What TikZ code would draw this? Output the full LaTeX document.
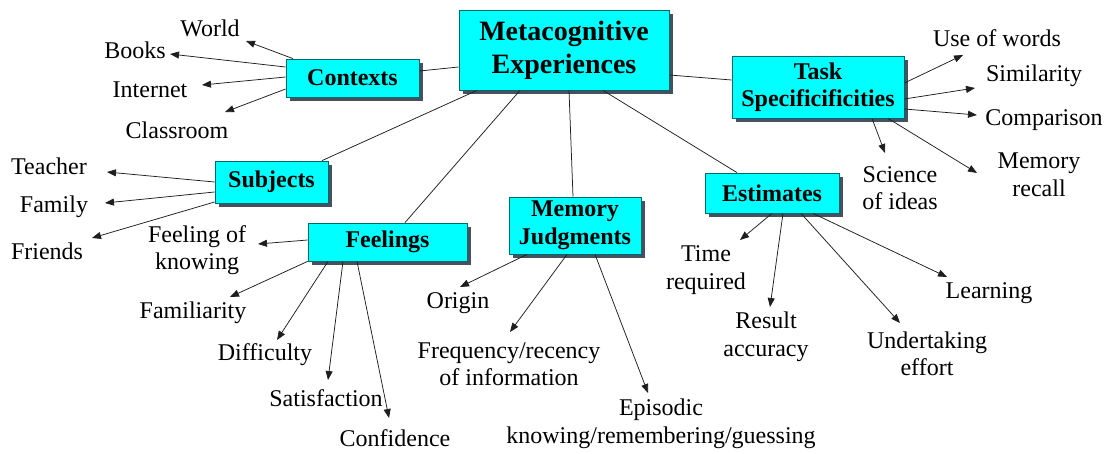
\documentclass[tikz,border=0pt]{standalone}
\usepackage{fontspec}
\setmainfont{Liberation Serif}
\usetikzlibrary{arrows.meta,shadows}
\definecolor{boxfill}{RGB}{0,255,255}
\definecolor{boxline}{RGB}{0,105,110}
\definecolor{boxshade}{RGB}{70,80,95}
\definecolor{inkline}{RGB}{30,30,30}
\tikzset{
  concept/.style={draw=boxline, line width=0.8pt, fill=boxfill, inner sep=0pt,
    align=center, font=\fontsize{24}{27.5}\selectfont\bfseries,
    drop shadow={shadow xshift=3.5pt, shadow yshift=-3.5pt, fill=boxshade, opacity=1}},
  leaf/.style={inner sep=0pt, align=center, font=\fontsize{24}{27.5}\selectfont},
  link/.style={draw=inkline, line width=0.75pt},
  arr/.style={link, -{Triangle[length=9pt,width=7pt]}}
}
\begin{document}
\begin{tikzpicture}[x=1pt,y=-1pt]
\useasboundingbox[fill=white] (0,0) rectangle (1113,453);

% concept boxes
\node[concept, minimum width=210pt, minimum height=80pt,
      font=\fontsize{28}{33}\selectfont\bfseries] (meta) at (564,50) {Metacognitive\\Experiences};
\node[concept, minimum width=133pt, minimum height=38pt] (ctx)  at (352.5,78)  {Contexts};
\node[concept, minimum width=172pt, minimum height=62pt] (task) at (818,87)    {Task\\Specificificities};
\node[concept, minimum width=113pt, minimum height=42pt] (subj) at (271.5,182) {Subjects};
\node[concept, minimum width=159pt, minimum height=38pt] (feel) at (387.5,242) {Feelings};
\node[concept, minimum width=132pt, minimum height=57pt] (mem)  at (575,225.5) {Memory\\Judgments};
\node[concept, minimum width=134pt, minimum height=40pt] (est)  at (772,193)   {Estimates};

% leaf labels
\node[leaf] (world)       at (210,28)  {World};
\node[leaf] (books)       at (135,50)  {Books};
\node[leaf] (internet)    at (150,90)  {Internet};
\node[leaf] (classroom)   at (177,130) {Classroom};
\node[leaf] (teacher)     at (49,166)  {Teacher};
\node[leaf] (family)      at (54,207)  {Family};
\node[leaf] (friends)     at (47,251)  {Friends};
\node[leaf] (fok)         at (197,250) {Feeling of\\knowing};
\node[leaf] (familiarity) at (193,313) {Familiarity};
\node[leaf] (difficulty)  at (265,355) {Difficulty};
\node[leaf] (satisf)      at (326,398) {Satisfaction};
\node[leaf] (confid)      at (395,438) {Confidence};
\node[leaf] (origin)      at (458,303) {Origin};
\node[leaf] (freq)        at (509,364) {Frequency/recency\\of information};
\node[leaf] (episodic)    at (661,424) {Episodic\\knowing/remembering/guessing};
\node[leaf] (timereq)     at (706,270) {Time\\required};
\node[leaf] (result)      at (766,337) {Result\\accuracy};
\node[leaf] (undertake)   at (927,354) {Undertaking\\effort};
\node[leaf] (learning)    at (989,293) {Learning};
\node[leaf] (usewords)    at (997,38)  {Use of words};
\node[leaf] (similarity)  at (1034,76) {Similarity};
\node[leaf] (comparison)  at (1044,120){Comparison};
\node[leaf] (recall)      at (1039,175){Memory\\recall};
\node[leaf] (science)     at (900,188) {Science\\of ideas};

% arrow tips, just short of their labels
\coordinate (tWorld)   at (246,41);
\coordinate (tBooks)   at (170,54);
\coordinate (tInternet)at (202,85);
\coordinate (tClass)   at (225,112);
\coordinate (tTeacher) at (107,172);
\coordinate (tFamily)  at (105,203);
\coordinate (tFriends) at (92,238);
\coordinate (tFok)     at (258,244);
\coordinate (tFamil)   at (230,297);
\coordinate (tDiff)    at (277,340);
\coordinate (tSatis)   at (328,380);
\coordinate (tConf)    at (389,418);
\coordinate (tOrigin)  at (460,287);
\coordinate (tFreq)    at (510,332);
\coordinate (tEpis)    at (648,393);
\coordinate (tTime)    at (740,240);
\coordinate (tResult)  at (770,307);
\coordinate (tUnder)   at (900,323);
\coordinate (tLearn)   at (947,277);
\coordinate (tUse)     at (963,55);
\coordinate (tSimil)   at (975,88);
\coordinate (tCompar)  at (977,115);
\coordinate (tScience) at (885,153);
\coordinate (tRecall)  at (977,173);

% links from the central concept
\draw[link] (meta.west |- 0,67)   -- (ctx.east |- 0,71);
\draw[link] (meta.east |- 0,75)   -- (task.west |- 0,80);
\draw[link] (meta.south -| 477,0) -- (subj.north -| 322,0);
\draw[link] (meta.south -| 520,0) -- (feel.north -| 405,0);
\draw[link] (meta.south -| 569,0) -- (mem.north -| 573,0);
\draw[link] (meta.south -| 603,0) -- (est.north -| 737,0);

% Contexts
\draw[arr] (ctx.north -| 293,0) -- (tWorld);
\draw[arr] (ctx.west |- 0,67)   -- (tBooks);
\draw[arr] (ctx.west |- 0,77)   -- (tInternet);
\draw[arr] (ctx.west |- 0,89)   -- (tClass);
% Subjects
\draw[arr] (subj.west |- 0,182) -- (tTeacher);
\draw[arr] (subj.west |- 0,192) -- (tFamily);
\draw[arr] (subj.west |- 0,202) -- (tFriends);
% Feelings
\draw[arr] (feel.west |- 0,240)   -- (tFok);
\draw[arr] (feel.south west)      -- (tFamil);
\draw[arr] (feel.south -| 328,0)  -- (tDiff);
\draw[arr] (feel.south -| 343,0)  -- (tSatis);
\draw[arr] (feel.south -| 357,0)  -- (tConf);
% Memory judgments
\draw[arr] (mem.south -| 527,0) -- (tOrigin);
\draw[arr] (mem.south -| 567,0) -- (tFreq);
\draw[arr] (mem.south -| 595,0) -- (tEpis);
% Estimates
\draw[arr] (est.south -| 772,0) -- (tTime);
\draw[arr] (est.south -| 783,0) -- (tResult);
\draw[arr] (est.south -| 801,0) -- (tUnder);
\draw[arr] (est.south -| 813,0) -- (tLearn);
% Task specificities
\draw[arr] (task.east |- 0,83)    -- (tUse);
\draw[arr] (task.east |- 0,99)    -- (tSimil);
\draw[arr] (task.east |- 0,109)   -- (tCompar);
\draw[arr] (task.south -| 872,0)  -- (tScience);
\draw[arr] (task.south -| 888,0)  -- (tRecall);
\end{tikzpicture}
\end{document}
